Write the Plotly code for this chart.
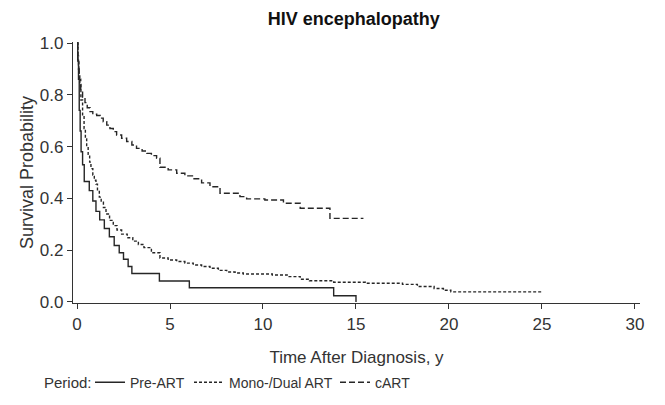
import plotly.graph_objects as go

# Pre-ART (solid)
pre_t = [0, 0.04, 0.08, 0.12, 0.17, 0.22, 0.3, 0.39, 0.66, 0.85, 1.02, 1.22, 1.47, 1.74,
         2.0, 2.27, 2.5, 2.75, 2.95, 4.43, 6.04, 13.8, 15.0]
pre_s = [1.0, 0.93, 0.86, 0.74, 0.66, 0.58, 0.53, 0.465, 0.43, 0.39, 0.35, 0.317, 0.284, 0.252,
         0.218, 0.19, 0.165, 0.137, 0.11, 0.081, 0.055, 0.024, 0.0]

# Mono-/Dual ART (dotted)
mono_t = [0, 0.05, 0.1, 0.15, 0.21, 0.3, 0.38, 0.45, 0.52, 0.6, 0.68, 0.75, 0.85, 0.93,
          1.02, 1.1, 1.2, 1.3, 1.42, 1.56, 1.75, 1.95, 2.15, 2.4, 2.7, 3.0, 3.3, 3.6, 4.0,
          4.46, 4.9, 5.36, 5.8, 6.25, 6.7, 7.15, 7.6, 8.05, 8.5, 8.94, 10.5, 11.3, 12.0, 12.5,
          13.8, 15.5, 17.5, 18.3, 19.2, 19.7, 20.1, 25.0]
mono_s = [1.0, 0.93, 0.88, 0.84, 0.78, 0.72, 0.67, 0.63, 0.6, 0.57, 0.54, 0.515, 0.49, 0.47,
          0.455, 0.43, 0.405, 0.385, 0.365, 0.34, 0.315, 0.295, 0.278, 0.262, 0.248, 0.235, 0.222, 0.21, 0.19,
          0.17, 0.162, 0.156, 0.15, 0.143, 0.137, 0.13, 0.122, 0.116, 0.112, 0.108, 0.104, 0.098, 0.088, 0.082,
          0.076, 0.072, 0.068, 0.06, 0.052, 0.045, 0.039, 0.039]

# cART (dashed)
cart_t = [0, 0.04, 0.08, 0.12, 0.2, 0.3, 0.43, 0.55, 0.7, 0.85, 1.06, 1.25, 1.41, 1.6, 1.77,
          1.95, 2.13, 2.4, 2.67, 2.95, 3.2, 3.5, 3.75, 4.0, 4.28, 4.46, 4.9, 5.36, 5.8, 6.25,
          6.7, 7.15, 7.69, 8.76, 9.12, 10.1, 11.1, 12.0, 13.6, 15.4]
cart_s = [1.0, 0.95, 0.9, 0.86, 0.82, 0.79, 0.77, 0.75, 0.735, 0.725, 0.72, 0.71, 0.696, 0.683, 0.67,
          0.658, 0.645, 0.632, 0.62, 0.606, 0.593, 0.583, 0.574, 0.565, 0.555, 0.52, 0.51, 0.497, 0.487, 0.476,
          0.46, 0.445, 0.42, 0.407, 0.398, 0.394, 0.381, 0.362, 0.323, 0.323]

x_ticks = [0, 5, 10, 15, 20, 25, 30]
y_ticks = [0.0, 0.2, 0.4, 0.6, 0.8, 1.0]

LINE = "#262626"
FONT = "Liberation Sans, Arial, sans-serif"

fig = go.Figure()
fig.add_trace(go.Scatter(x=pre_t, y=pre_s, mode="lines", name="Pre-ART", line_shape="hv",
                         legendwidth=54,
                         line=dict(color=LINE, width=1.4, dash="solid")))
fig.add_trace(go.Scatter(x=mono_t, y=mono_s, mode="lines", name="Mono-/Dual ART", line_shape="hv",
                         legendwidth=101,
                         line=dict(color=LINE, width=1.4, dash="3px,2px")))
fig.add_trace(go.Scatter(x=cart_t, y=cart_s, mode="lines", name="cART", line_shape="hv",
                         line=dict(color=LINE, width=1.4, dash="6px,3px")))

fig.update_layout(
    width=665, height=405,
    margin=dict(l=73, r=25, t=42, b=102, autoexpand=False),
    plot_bgcolor="white", paper_bgcolor="white",
    font=dict(family=FONT, color="#333333", size=17),
    title=dict(text="<b>HIV encephalopathy</b>", x=0.532, xanchor="center", y=0.955, yanchor="middle",
               font=dict(size=18, color="#111111", family=FONT)),
    showlegend=True,
    legend=dict(orientation="h", x=0.03, xanchor="left", y=-0.305, yanchor="middle",
                itemwidth=30,
                font=dict(size=14, color="#333333"), bgcolor="rgba(0,0,0,0)",
                itemclick=False),
    annotations=[dict(text="Period:", xref="paper", yref="paper", x=-0.055, xanchor="left",
                      y=-0.305, yanchor="middle", showarrow=False,
                      font=dict(size=15, color="#333333", family=FONT))],
)
fig.update_xaxes(range=[-0.215, 30.27], tickvals=x_ticks, ticks="outside", ticklen=5, tickwidth=1,
                 tickcolor="#333", showline=True, linecolor="#333", linewidth=1.2, showgrid=False,
                 zeroline=False, automargin=False,
                 title=dict(text="Time After Diagnosis, y", standoff=18, font=dict(size=17)),
                 tickfont=dict(size=17))
fig.update_yaxes(range=[-0.004, 1.004], tickvals=y_ticks, tickformat=".1f", ticks="outside", ticklen=5,
                 tickwidth=1, tickcolor="#333", showline=True, linecolor="#333", linewidth=1.2,
                 showgrid=False, zeroline=False, automargin=False,
                 title=dict(text="Survival Probability", standoff=1, font=dict(size=18)),
                 tickfont=dict(size=17))

fig.write_html("out.html", config={"displayModeBar": False},
               post_script="document.body.style.margin='0px';")
